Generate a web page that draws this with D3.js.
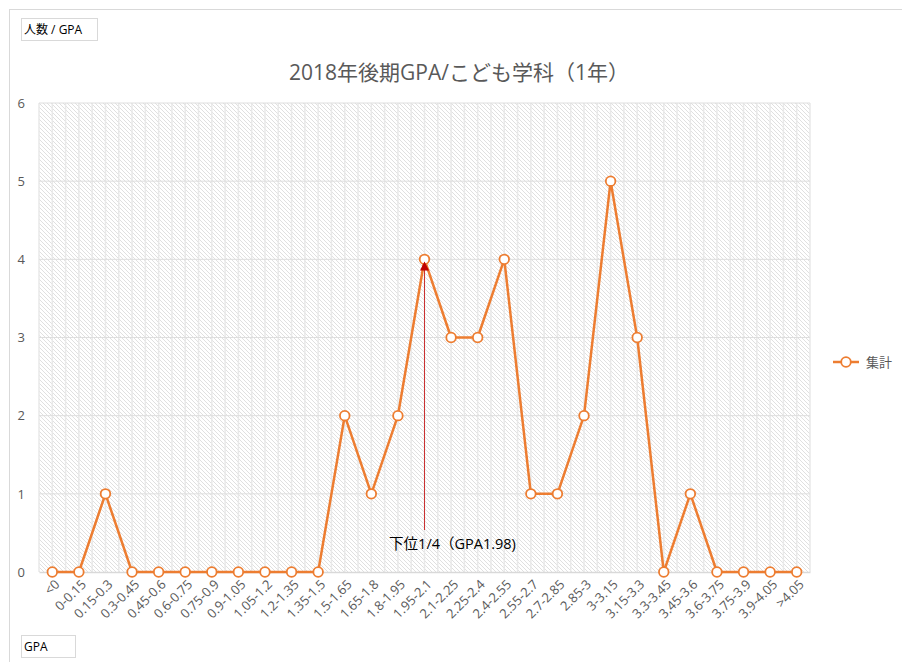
<!DOCTYPE html>
<html>
<head>
<meta charset="utf-8">
<script src="https://cdn.jsdelivr.net/npm/d3@7"></script>
<style>
  body { margin: 0; background: #fff; }
  svg text { font-family: "Open Sans", "Noto Sans CJK JP", sans-serif; }
</style>
</head>
<body>
<div id="chart"></div>
<script>
// categorias (rangos de GPA)
const categories = ["<0", "0-0.15", "0.15-0.3", "0.3-0.45", "0.45-0.6", "0.6-0.75", "0.75-0.9", "0.9-1.05",
  "1.05-1.2", "1.2-1.35", "1.35-1.5", "1.5-1.65", "1.65-1.8", "1.8-1.95", "1.95-2.1", "2.1-2.25",
  "2.25-2.4", "2.4-2.55", "2.55-2.7", "2.7-2.85", "2.85-3", "3-3.15", "3.15-3.3", "3.3-3.45",
  "3.45-3.6", "3.6-3.75", "3.75-3.9", "3.9-4.05", ">4.05"]
// numero de alumnos por rango
const counts = [0, 0, 1, 0, 0, 0, 0, 0, 0, 0, 0, 2, 1, 2, 4, 3, 3, 4, 1, 1, 2, 5, 3, 0, 1, 0, 0, 0, 0]
const yTicks = [0, 1, 2, 3, 4, 5, 6]
const seriesName = "集計"
const annotation = { category: "1.95-2.1", value: 4, label: "下位1/4（GPA1.98)" }

const WIDTH = 902
const HEIGHT = 662
const margin = { top: 103, left: 39, right: 92, bottom: 90 }
const width = WIDTH - margin.left - margin.right
const height = HEIGHT - margin.top - margin.bottom

const orange = "#ED7D31"
const gray = "#595959"

const svg = d3.select("#chart").append("svg")
  .attr("width", WIDTH)
  .attr("height", HEIGHT)

// patron rayado del fondo
const defs = svg.append("defs")
defs.append("pattern")
  .attr("id", "hatch")
  .attr("patternUnits", "userSpaceOnUse")
  .attr("width", 4)
  .attr("height", 4)
  .call(p => {
    p.append("rect").attr("width", 4).attr("height", 4).attr("fill", "#fff")
    p.append("path").attr("d", "M-1,-1 L5,5 M-1,3 L1,5 M3,-1 L5,1")
      .attr("stroke", "#dcdcdc").attr("stroke-width", 0.9)
  })
defs.append("marker")
  .attr("id", "arrow")
  .attr("viewBox", "0 0 10 10")
  .attr("refX", 9).attr("refY", 5)
  .attr("markerWidth", 10).attr("markerHeight", 9)
  .attr("markerUnits", "userSpaceOnUse")
  .attr("orient", "auto")
  .append("path").attr("d", "M0,0 L10,5 L0,10 Z").attr("fill", "#C00000")

// borde del area del grafico
svg.append("rect")
  .attr("x", 9.5).attr("y", 9.5)
  .attr("width", 1000).attr("height", 1000)
  .attr("fill", "none").attr("stroke", "#d9d9d9")

// cajas de titulo de ejes
const axisBox = (x, y, w, txt) => {
  svg.append("rect").attr("x", x + 0.5).attr("y", y + 0.5).attr("width", w).attr("height", 22)
    .attr("fill", "#fff").attr("stroke", "#d9d9d9")
  svg.append("text").attr("x", x + 3).attr("y", y + 16)
    .attr("font-size", 12).attr("fill", "#000").text(txt)
}
axisBox(21, 18, 76, "人数 / GPA")
axisBox(21, 635, 54, "GPA")

// Titulo
svg.append("text")
  .attr("x", 459).attr("y", 80)
  .attr("text-anchor", "middle")
  .attr("font-size", 21)
  .attr("fill", gray)
  .text("2018年後期GPA/こども学科（1年）")

const g = svg.append("g").attr("transform", `translate(${margin.left}, ${margin.top})`)

const xScale = d3.scaleBand().domain(categories).range([0, width])
const yScale = d3.scaleLinear().domain([0, 6]).range([height, 0])
const cx = d => xScale(d) + xScale.bandwidth() / 2

g.append("rect").attr("width", width).attr("height", height).attr("fill", "url(#hatch)")

// lineas de cuadricula verticales (cada media categoria)
const halfSteps = d3.range(0, categories.length * 2 + 1)
g.append("g").selectAll("line")
  .data(halfSteps)
  .join("line")
  .attr("x1", i => i * xScale.bandwidth() / 2)
  .attr("x2", i => i * xScale.bandwidth() / 2)
  .attr("y1", 0).attr("y2", height)
  .attr("stroke", "#e9e9e9").attr("stroke-width", 1.5)

// lineas horizontales
g.append("g").selectAll("line")
  .data(yTicks.filter(d => d > 0))
  .join("line")
  .attr("x1", 0).attr("x2", width)
  .attr("y1", d => yScale(d)).attr("y2", d => yScale(d))
  .attr("stroke", "#dedede").attr("stroke-width", 1)

// Eje Y
const yAxis = d3.axisLeft(yScale).tickValues(yTicks).tickFormat(d3.format("d")).tickSize(0).tickPadding(14)
g.append("g").call(yAxis)
  .call(a => a.select(".domain").remove())
  .selectAll("text").attr("font-size", 13).attr("fill", gray)

// Eje X
const xAxis = d3.axisBottom(xScale).tickSize(0)
const xg = g.append("g").attr("transform", `translate(0, ${height})`).call(xAxis)
xg.select(".domain").attr("stroke", "#d9d9d9").attr("stroke-width", 1.5)
xg.selectAll("text")
  .attr("font-size", 13).attr("fill", gray)
  .attr("text-anchor", "end")
  .attr("dy", 0)
  .attr("transform", "translate(6, 11) rotate(-45)")

// linea de datos
const data = categories.map((c, i) => ({ cat: c, value: counts[i] }))
const lineGenerator = d3.line().x(d => cx(d.cat)).y(d => yScale(d.value))
g.append("path")
  .datum(data)
  .attr("d", lineGenerator)
  .attr("fill", "none")
  .attr("stroke", orange)
  .attr("stroke-width", 2.5)
  .attr("stroke-linejoin", "round")

g.append("g").selectAll("circle")
  .data(data)
  .join("circle")
  .attr("cx", d => cx(d.cat))
  .attr("cy", d => yScale(d.value))
  .attr("r", 4.8)
  .attr("fill", "#fff")
  .attr("stroke", orange)
  .attr("stroke-width", 1.8)

// anotacion (flecha roja, encima de los puntos)
g.append("line")
  .attr("x1", cx(annotation.category)).attr("x2", cx(annotation.category))
  .attr("y1", yScale(0) - 42).attr("y2", yScale(annotation.value) + 3)
  .attr("stroke", "#C00000").attr("stroke-width", 0.8)
  .attr("marker-end", "url(#arrow)")
g.append("text")
  .attr("x", cx(annotation.category) + 28).attr("y", yScale(0) - 23)
  .attr("text-anchor", "middle")
  .attr("font-size", 14.5).attr("fill", "#000")
  .text(annotation.label)

// Leyenda
const leg = svg.append("g").attr("transform", "translate(833, 362)")
leg.append("line").attr("x1", 0).attr("x2", 26).attr("stroke", orange).attr("stroke-width", 2.5)
leg.append("circle").attr("cx", 13).attr("r", 4.8).attr("fill", "#fff").attr("stroke", orange).attr("stroke-width", 1.8)
leg.append("text").attr("x", 33).attr("y", 5).attr("font-size", 13).attr("fill", gray).text(seriesName)
</script>
</body>
</html>
